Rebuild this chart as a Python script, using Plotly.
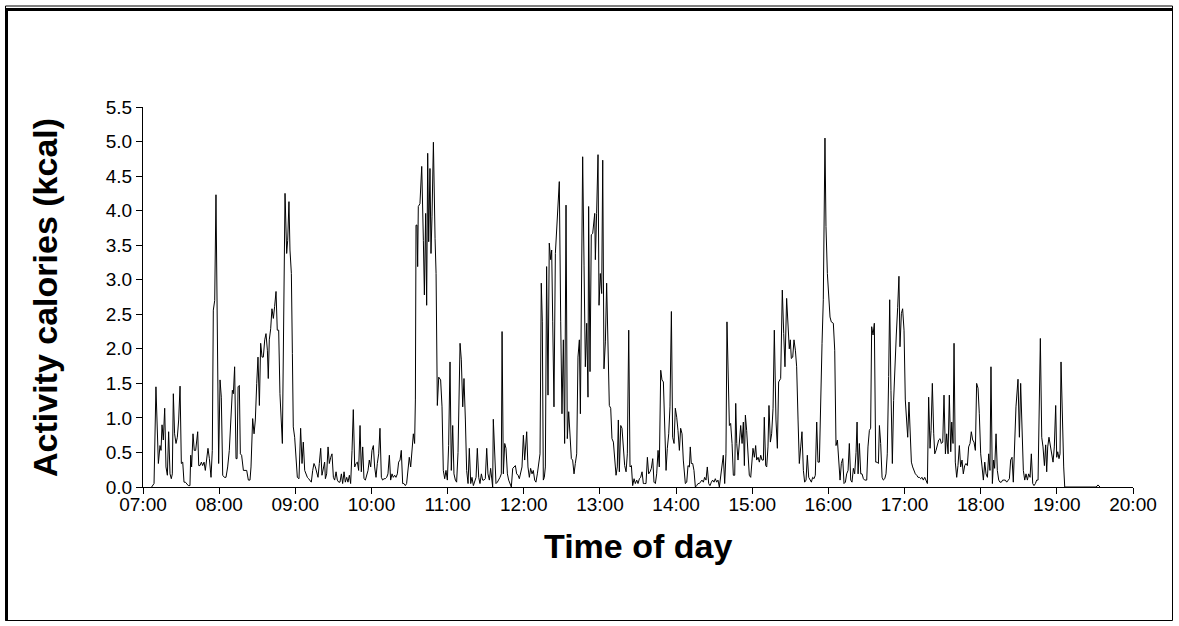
import plotly.graph_objects as go

# minutes after 07:00 and activity calories (kcal)
minutes = [
    6.8, 8.7, 10.2, 12.1, 13.4, 14.2, 15.0, 16.0, 17.1, 18.1, 19.2, 20.2, 21.3, 22.3, 23.1, 23.9, 24.9, 26.0, 27.05, 28.1,
    29.2, 30.2, 31.3, 32.3, 33.4, 34.4, 35.7, 37.0, 37.6, 38.3, 39.4, 40.4, 41.5, 43.1, 43.9, 44.9, 46.0, 47.0, 48.1, 49.1,
    50.2, 51.2, 52.3, 53.6, 54.6, 55.4, 56.5, 57.5, 58.6, 59.6, 60.7, 61.7, 62.8, 64.1, 65.4, 66.7, 68.0, 69.1, 70.4, 71.2,
    72.2, 73.3, 74.1, 74.9, 75.9, 76.7, 77.7, 79.1, 80.4, 81.7, 83.0, 84.3, 85.1, 86.4, 87.5, 88.5, 89.6, 90.6, 91.7, 92.7,
    93.8, 94.8, 95.9, 96.9, 98.0, 98.7, 99.5, 100.6, 101.6, 102.7, 103.7, 104.8, 105.8, 106.9, 107.9, 109.0, 109.8, 111.9, 112.7, 113.2,
    114.0, 115.0, 115.8, 116.9, 117.7, 118.4, 119.5, 120.5, 121.6, 122.9, 124.2, 125.3, 126.3, 127.4, 128.4, 129.5, 130.5, 131.6, 132.6, 133.7,
    134.7, 135.8, 136.8, 137.9, 138.9, 140.0, 141.0, 142.1, 143.1, 143.7, 144.7, 145.8, 146.8, 147.9, 148.9, 150.0, 151.0, 152.1, 153.1, 154.2,
    155.2, 156.3, 157.3, 158.4, 159.4, 160.5, 161.5, 162.6, 163.6, 164.7, 165.7, 166.8, 167.8, 168.9, 169.9, 171.0, 172.0, 173.1, 174.1, 175.2,
    176.2, 177.3, 178.3, 179.4, 180.4, 181.5, 182.5, 183.6, 184.6, 185.7, 186.7, 187.8, 188.8, 189.9, 190.9, 192.0, 193.0, 194.1, 195.1, 196.2,
    197.2, 198.3, 199.3, 200.4, 201.4, 202.5, 203.5, 204.6, 205.6, 206.7, 207.7, 208.8, 209.8, 210.9, 211.9, 213.0, 214.0, 214.6, 215.1, 215.9,
    216.4, 216.9, 218.2, 219.6, 220.9, 221.7, 222.7, 223.5, 224.3, 225.1, 226.1, 226.9, 227.7, 228.8, 230.1, 230.9, 231.9, 233.0, 234.5, 235.6,
    236.6, 237.7, 238.7, 239.8, 240.8, 241.9, 242.9, 244.0, 245.0, 246.1, 247.1, 248.2, 249.8, 250.8, 251.9, 252.9, 254.0, 255.0, 256.1, 257.1,
    258.2, 259.2, 260.3, 261.3, 262.4, 263.4, 264.5, 265.5, 266.6, 267.6, 268.7, 269.7, 270.8, 271.8, 272.9, 273.9, 275.0, 275.5, 276.0, 277.1,
    278.1, 279.2, 280.2, 281.3, 282.3, 282.9, 283.9, 285.0, 286.0, 287.1, 288.1, 289.2, 290.2, 291.3, 292.3, 293.4, 294.4, 295.5, 296.5, 297.6,
    298.6, 299.7, 300.7, 302.3, 303.3, 304.4, 305.4, 306.5, 307.5, 308.6, 309.6, 310.7, 311.7, 312.8, 313.8, 314.6, 315.4, 316.2, 317.0, 318.0,
    319.1, 320.1, 321.2, 322.0, 322.8, 323.8, 324.9, 325.9, 327.0, 328.0, 329.1, 330.1, 331.2, 332.2, 333.3, 334.3, 335.4, 336.4, 337.5, 338.5,
    339.6, 340.6, 341.7, 342.7, 343.8, 344.6, 345.4, 346.4, 347.5, 348.5, 349.6, 350.6, 351.1, 352.2, 353.2, 354.3, 355.9, 356.4, 357.4, 358.5,
    359.3, 360.3, 361.4, 362.2, 363.2, 364.3, 365.3, 366.4, 367.4, 368.5, 369.5, 370.6, 371.6, 372.7, 373.7, 374.5, 375.3, 376.4, 377.4, 378.5,
    379.5, 380.6, 381.6, 382.7, 383.7, 384.8, 385.8, 386.9, 387.9, 389.0, 390.0, 391.1, 392.1, 393.2, 394.2, 395.3, 396.3, 397.4, 398.4, 399.5,
    400.5, 401.6, 402.6, 403.7, 404.7, 405.8, 406.8, 407.9, 408.9, 410.0, 411.0, 412.1, 413.1, 414.2, 415.2, 416.3, 417.3, 418.4, 419.4, 420.5,
    421.5, 422.6, 423.6, 424.7, 425.7, 426.8, 427.3, 428.4, 429.4, 430.5, 431.2, 432.0, 433.1, 434.1, 435.2, 436.2, 437.3, 438.3, 439.4, 440.4,
    441.5, 442.5, 443.6, 444.6, 445.7, 446.7, 447.8, 448.8, 449.9, 450.9, 452.0, 453.0, 454.1, 455.1, 456.2, 457.2, 458.3, 459.3, 460.1, 461.2,
    462.0, 463.0, 464.1, 465.1, 466.2, 467.0, 467.8, 468.8, 469.9, 470.9, 472.0, 473.0, 473.8, 474.6, 475.6, 476.7, 477.7, 478.8, 479.6, 480.6,
    481.7, 482.7, 483.5, 484.6, 485.6, 486.7, 487.7, 488.8, 489.5, 490.6, 491.4, 492.4, 493.2, 494.3, 495.3, 496.4, 497.4, 498.5, 498.7, 499.8,
    500.8, 502.4, 503.7, 504.8, 505.8, 507.1, 508.2, 509.2, 510.0, 510.8, 511.9, 512.9, 514.0, 515.0, 516.1, 517.1, 518.2, 519.2, 520.3, 521.3,
    522.4, 523.4, 524.5, 525.5, 526.6, 527.6, 528.7, 529.7, 530.8, 531.8, 532.9, 535.0, 536.0, 537.3, 538.1, 539.2, 540.2, 541.3, 542.3, 543.9,
    545.0, 546.0, 547.1, 548.1, 549.2, 550.2, 551.3, 552.3, 553.4, 554.4, 555.5, 556.5, 557.6, 558.6, 559.7, 560.7, 561.8, 562.6, 563.4, 564.4,
    565.5, 566.5, 567.6, 568.6, 570.2, 571.2, 572.3, 573.3, 574.1, 575.2, 576.2, 577.3, 578.3, 579.4, 580.2, 581.2, 582.3, 583.3, 584.4, 585.4,
    586.4, 587.5, 588.3, 589.3, 590.4, 591.4, 592.5, 593.5, 594.6, 595.6, 596.4, 597.5, 598.5, 599.6, 600.6, 601.7, 602.5, 603.5, 604.3, 605.4,
    606.4, 607.5, 608.5, 609.6, 610.6, 611.7, 612.7, 613.8, 614.8, 615.9, 616.9, 618.0, 619.0, 620.1, 620.9, 621.9, 623.0, 623.8, 624.8, 625.9,
    626.9, 628.0, 629.0, 630.1, 631.1, 632.2, 633.2, 634.3, 635.3, 636.4, 637.2, 638.2, 639.0, 640.0, 641.1, 642.1, 643.2, 644.2, 645.3, 646.3,
    647.4, 648.4, 649.5, 650.5, 651.6, 652.6, 653.7, 654.7, 655.8, 656.8, 657.9, 658.9, 660.0, 661.1, 662.1, 663.2, 664.2, 665.3, 666.3, 667.3,
    668.1, 669.2, 670.2, 671.0, 672.1, 673.1, 674.2, 675.2, 676.3, 677.3, 678.4, 679.4, 680.5, 681.5, 682.6, 683.6, 684.7, 685.7, 686.8, 687.8,
    689.4, 690.5, 691.5, 692.6, 693.6, 694.7, 695.7, 696.8, 697.8, 698.9, 699.9, 701.0, 702.0, 703.1, 704.1, 705.2, 706.2, 707.0, 708.1, 709.1,
    710.2, 711.2, 712.0, 712.8, 713.8, 714.9, 715.9, 717.0, 718.0, 719.1, 719.9, 720.7, 721.7, 722.5, 723.3, 724.3, 725.4, 726.2, 740.0, 751.0,
    752.4, 754.0,
]

kcal = [
    0.0, 0.05, 1.45, 0.34, 0.6, 0.53, 0.9, 0.68, 1.14, 0.29, 0.17, 0.8, 0.19, 0.12, 0.19, 1.35, 0.77, 0.63, 0.72, 0.97,
    1.46, 0.34, 0.36, 0.07, 0.07, 0.05, 0.02, 0.02, 0.46, 0.29, 0.77, 0.53, 0.53, 0.8, 0.31, 0.31, 0.36, 0.31, 0.36, 0.24,
    0.39, 0.56, 0.41, 0.14, 0.53, 2.56, 2.7, 4.23, 2.2, 0.34, 1.55, 1.3, 0.17, 0.14, 0.14, 0.29, 0.53, 0.97, 1.4, 1.35,
    1.74, 0.41, 0.41, 1.45, 1.47, 0.48, 0.46, 0.24, 0.24, 0.24, 0.10, 0.10, 0.29, 0.99, 0.77, 0.97, 1.50, 1.88, 1.18, 2.08,
    1.88, 1.88, 2.13, 2.22, 1.98, 1.57, 2.13, 2.29, 2.58, 2.44, 2.61, 2.83, 2.27, 2.27, 1.35, 0.92, 0.63, 4.25, 3.77, 3.38,
    3.57, 4.13, 3.43, 3.09, 1.93, 0.87, 0.72, 0.48, 0.14, 0.12, 0.85, 0.34, 0.65, 0.24, 0.19, 0.14, 0.12, 0.10, 0.07, 0.24,
    0.34, 0.29, 0.22, 0.14, 0.34, 0.56, 0.17, 0.29, 0.36, 0.12, 0.19, 0.58, 0.34, 0.43, 0.48, 0.14, 0.10, 0.22, 0.10, 0.07,
    0.07, 0.19, 0.05, 0.22, 0.07, 0.14, 0.07, 0.17, 0.05, 0.53, 1.12, 0.29, 0.34, 0.36, 0.24, 0.89, 0.22, 0.58, 0.12, 0.10,
    0.17, 0.24, 0.39, 0.29, 0.53, 0.60, 0.29, 0.14, 0.34, 0.48, 0.85, 0.14, 0.10, 0.12, 0.12, 0.14, 0.19, 0.46, 0.10, 0.19,
    0.14, 0.17, 0.14, 0.19, 0.36, 0.39, 0.53, 0.05, 0.05, 0.02, 0.05, 0.24, 0.43, 0.29, 0.48, 0.77, 0.63, 1.26, 3.79, 3.79,
    3.19, 4.06, 4.10, 4.64, 3.57, 2.78, 3.96, 2.63, 4.83, 3.55, 4.61, 3.38, 3.91, 4.99, 3.6, 3.09, 1.18, 1.59, 1.55, 1.16,
    0.24, 0.12, 0.24, 0.10, 0.6, 1.81, 0.24, 0.89, 0.19, 0.10, 0.07, 0.5, 2.08, 1.84, 1.16, 1.57, 0.97, 0.24, 0.05, 0.56,
    0.05, 0.14, 0.02, 0.10, 0.14, 0.56, 0.14, 0.05, 0.19, 0.10, 0.10, 0.12, 0.56, 0.19, 0.10, 0.27, 0.05, 0.0, 0.98, 0.34,
    0.05, 0.07, 0.10, 0.14, 0.19, 2.25, 0.19, 0.63, 0.56, 0.19, 0.10, 0.05, 0.0, 0.27, 0.29, 0.31, 0.19, 0.17, 0.12, 0.24,
    0.29, 0.75, 0.39, 0.80, 0.29, 0.14, 0.27, 0.19, 0.24, 0.10, 0.07, 0.19, 0.34, 0.48, 2.95, 2.40, 0.10, 0.14, 0.29, 3.19,
    1.33, 3.53, 3.29, 3.43, 2.4, 1.16, 3.38, 3.7, 4.15, 4.42, 2.4, 1.06, 2.13, 0.63, 4.08, 0.70, 1.09, 0.72, 0.41, 0.39,
    0.19, 0.34, 0.48, 1.88, 2.13, 1.06, 2.4, 4.78, 3.2, 1.74, 2.37, 1.30, 4.06, 1.67, 3.65, 3.67, 3.96, 3.29, 3.96, 4.81,
    2.63, 3.09, 2.80, 4.73, 1.71, 2.1, 2.95, 1.88, 1.18, 1.14, 0.70, 0.65, 0.34, 0.17, 0.29, 0.97, 0.22, 0.89, 0.85, 0.46,
    0.31, 0.22, 0.48, 2.27, 0.29, 0.31, 0.02, 0.12, 0.05, 0.10, 0.05, 0.12, 0.14, 0.22, 0.05, 0.05, 0.05, 0.43, 0.19, 0.22,
    0.27, 0.41, 0.07, 0.05, 0.19, 0.53, 0.29, 1.69, 1.55, 1.52, 0.72, 0.24, 0.56, 0.77, 1.16, 2.54, 0.72, 0.63, 1.14, 1.01,
    0.82, 0.53, 0.85, 0.77, 0.39, 0.17, 0.05, 0.07, 0.31, 0.29, 0.58, 0.34, 0.34, 0.24, 0.0, 0.02, 0.05, 0.05, 0.07, 0.10,
    0.07, 0.14, 0.10, 0.29, 0.05, 0.02, 0.07, 0.10, 0.07, 0.12, 0.07, 0.10, 0.0, 0.14, 0.24, 0.46, 0.05, 0.48, 2.39, 1.26,
    0.89, 0.92, 0.63, 0.17, 0.17, 1.21, 0.63, 0.39, 0.75, 0.89, 0.63, 0.94, 0.31, 1.04, 0.82, 0.39, 0.17, 0.14, 0.34, 0.56,
    0.43, 0.60, 0.39, 0.43, 0.36, 0.46, 0.39, 0.39, 1.01, 0.31, 0.29, 0.58, 1.18, 0.65, 0.77, 1.14, 2.27, 1.2, 0.97, 0.56,
    1.52, 1.57, 2.85, 2.22, 1.74, 2.73, 2.22, 2.0, 2.13, 1.86, 1.88, 2.13, 1.98, 1.74, 0.97, 0.34, 0.58, 0.80, 0.24, 0.07,
    0.10, 0.46, 0.14, 0.10, 0.07, 0.14, 0.12, 0.17, 0.94, 0.36, 0.36, 2.08, 2.71, 5.05, 3.77, 3.09, 2.71, 2.46, 2.39, 2.37,
    1.98, 0.60, 0.68, 0.36, 0.10, 0.34, 0.41, 0.05, 0.07, 0.19, 0.24, 0.63, 0.10, 0.07, 0.27, 0.19, 0.5, 0.94, 0.19, 0.63,
    0.19, 0.19, 0.12, 0.10, 0.10, 0.58, 0.82, 0.85, 2.32, 2.20, 2.37, 0.36, 0.36, 0.34, 0.89, 0.63, 0.14, 0.10, 0.12, 0.19,
    0.48, 1.6, 2.71, 1.4, 0.34, 1.25, 1.88, 2.2, 2.6, 3.05, 2.03, 2.51, 2.58, 2.27, 1.26, 0.89, 0.72, 1.23, 0.89, 0.36,
    0.29, 0.24, 0.19, 0.17, 0.14, 0.14, 0.12, 0.14, 0.10, 0.14, 0.10, 0.05, 1.30, 0.56, 0.82, 1.50, 0.77, 0.48, 0.53, 0.60,
    0.68, 0.70, 0.63, 0.65, 1.33, 0.48, 0.77, 0.48, 1.33, 0.51, 0.94, 0.63, 2.08, 0.36, 0.14, 0.31, 0.60, 0.29, 0.39, 0.19,
    0.31, 0.34, 0.31, 0.58, 0.63, 0.80, 0.68, 0.65, 0.53, 1.50, 1.43, 1.06, 0.48, 0.29, 0.10, 0.36, 0.19, 0.14, 0.48, 0.24,
    1.74, 0.05, 0.39, 0.27, 0.77, 0.24, 0.10, 0.07, 0.07, 0.10, 0.10, 0.10, 0.07, 0.10, 0.12, 0.39, 0.43, 0.07, 0.77, 1.16,
    1.56, 0.72, 1.50, 0.77, 0.24, 0.10, 0.19, 0.10, 0.19, 0.14, 0.48, 0.05, 0.02, 0.05, 0.10, 0.10, 1.0, 2.15, 0.72, 0.58,
    0.31, 0.61, 0.22, 0.58, 0.72, 0.60, 0.48, 0.36, 0.58, 1.18, 0.43, 0.51, 0.41, 0.48, 1.81, 1.0, 0.29, 0.0, 0.0, 0.0,
    0.03, 0.0,
]

tick_labels = ["07:00", "08:00", "09:00", "10:00", "11:00", "12:00", "13:00",
               "14:00", "15:00", "16:00", "17:00", "18:00", "19:00", "20:00"]

FONT = "Liberation Sans, Arial, sans-serif"

fig = go.Figure()
fig.add_trace(go.Scatter(
    x=minutes, y=kcal, mode="lines",
    line=dict(color="black", width=1),
    showlegend=False, hoverinfo="skip",
))

tick_vals = [60 * i for i in range(len(tick_labels))]

fig.update_layout(
    width=1179, height=626,
    margin=dict(l=143, r=46, t=107, b=139),
    paper_bgcolor="white", plot_bgcolor="white",
    font=dict(family=FONT, size=20, color="black"),
    xaxis=dict(
        range=[0, 780], tickmode="array", tickvals=tick_vals, ticktext=tick_labels,
        showgrid=False, zeroline=False, showline=True, linecolor="black", linewidth=1,
        ticks="outside", ticklen=6, tickcolor="black", tickwidth=1,
        ticklabelstandoff=-6,
        tickfont=dict(family=FONT, size=19, color="black"),
    ),
    yaxis=dict(
        range=[0, 5.5], dtick=0.5, tick0=0, tickformat=".1f",
        showgrid=False, zeroline=False, showline=True, linecolor="black", linewidth=1,
        ticks="outside", ticklen=6, tickcolor="black", tickwidth=1,
        tickfont=dict(family=FONT, size=19, color="black"),
    ),
    annotations=[
        dict(text="<b>Time of day</b>", xref="paper", yref="paper", x=0.5, y=-0.155,
             xanchor="center", yanchor="middle", showarrow=False,
             font=dict(family=FONT, size=34, color="black")),
        dict(text="<b>Activity calories (kcal)</b>", xref="paper", yref="paper", x=-0.099, y=0.5,
             xanchor="center", yanchor="middle", showarrow=False, textangle=-90,
             font=dict(family=FONT, size=34, color="black")),
    ],
    shapes=[
        # outer thin frame
        dict(type="rect", xref="paper", yref="paper",
             x0=(5.5 - 143) / 990, x1=(1172.5 - 143) / 990,
             y0=(487 - 620.5) / 380, y1=(487 - 6) / 380,
             line=dict(color="black", width=1)),
        # thick top edge
        dict(type="line", xref="paper", yref="paper",
             x0=(5 - 143) / 990, x1=(1172.5 - 143) / 990,
             y0=(487 - 9.5) / 380, y1=(487 - 9.5) / 380,
             line=dict(color="black", width=3)),
        # thick left edge
        dict(type="line", xref="paper", yref="paper",
             x0=(6.5 - 143) / 990, x1=(6.5 - 143) / 990,
             y0=(487 - 620.5) / 380, y1=(487 - 8) / 380,
             line=dict(color="black", width=3)),
    ],
)

fig.write_html(
    "out.html",
    config={"displayModeBar": False},
    post_script="document.body.style.margin='0';document.body.style.overflow='hidden';",
)
